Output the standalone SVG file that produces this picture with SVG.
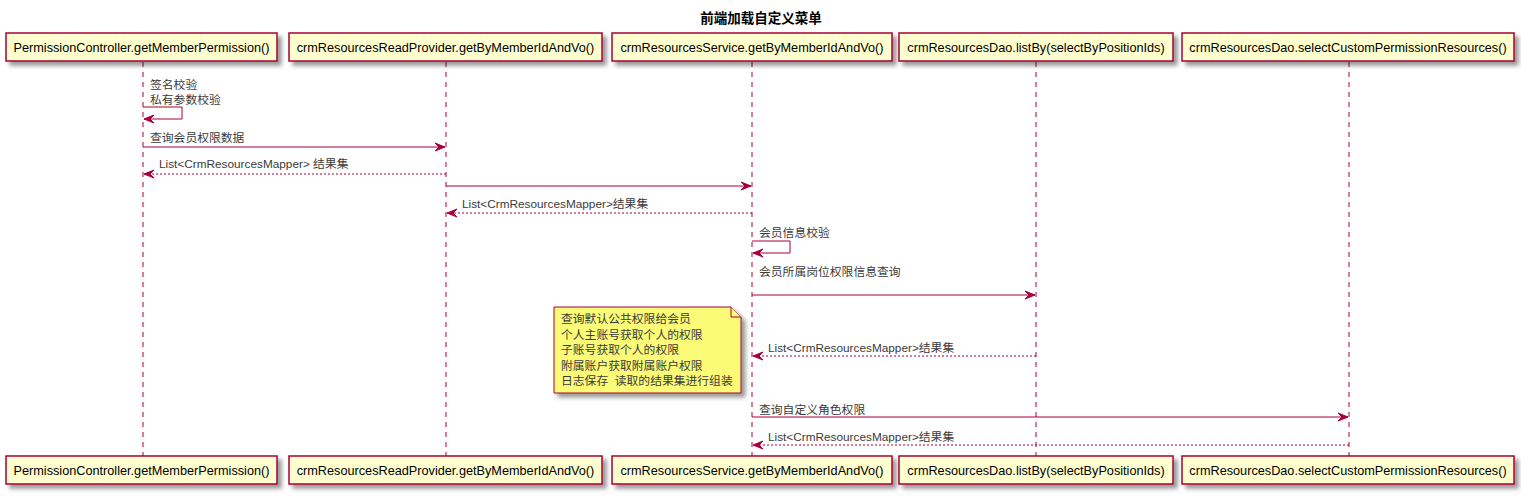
<svg xmlns="http://www.w3.org/2000/svg" width="1521" height="497" viewBox="0 0 1521 497">
<style>
.part rect{fill:#FEFECE;stroke:#A80036;stroke-width:1.5;}
.part text{font-family:"Liberation Sans","Noto Sans CJK SC",sans-serif;font-size:12.7px;fill:#000;text-anchor:middle;}
.life{stroke:#A80036;stroke-width:1;stroke-dasharray:5,5;fill:none;}
.msg{stroke:#A80036;stroke-width:1;fill:none;}
.ret{stroke:#A80036;stroke-width:1;fill:none;stroke-dasharray:2,2;}
.head{fill:#A80036;stroke:#A80036;stroke-width:1;}
.lbl{font-family:"Liberation Sans","Noto Sans CJK SC",sans-serif;font-size:11.8px;fill:#3a3a3a;}
.title{font-family:"Liberation Sans","Noto Sans CJK SC",sans-serif;font-size:13.5px;font-weight:bold;fill:#000;text-anchor:middle;}
.note path{fill:#FBFB77;stroke:#A80036;stroke-width:1;}
</style>
<defs>
<filter id="sh" x="-1" y="-1" width="300%" height="300%">
<feGaussianBlur result="b" stdDeviation="2"/>
<feColorMatrix in="b" result="c" type="matrix" values="0 0 0 0 0 0 0 0 0 0 0 0 0 0 0 0 0 0 .4 0"/>
<feOffset dx="4" dy="4" in="c" result="o"/>
<feBlend in="SourceGraphic" in2="o" mode="normal"/>
</filter>
</defs>
<rect width="1521" height="497" fill="#FFFFFF"/>
<text class="title" x="761" y="23">前端加载自定义菜单</text>

<g id="lifelines">
<line class="life" x1="143" y1="62" x2="143" y2="456"/>
<line class="life" x1="446" y1="62" x2="446" y2="456"/>
<line class="life" x1="752" y1="62" x2="752" y2="456"/>
<line class="life" x1="1036" y1="62" x2="1036" y2="456"/>
<line class="life" x1="1349" y1="62" x2="1349" y2="456"/>
</g>

<g id="p1" class="part">
<rect x="6" y="33" width="271" height="28" filter="url(#sh)"/>
<text x="141.5" y="52">PermissionController.getMemberPermission()</text>
<rect x="6" y="456" width="271" height="28" filter="url(#sh)"/>
<text x="141.5" y="475">PermissionController.getMemberPermission()</text>
</g>
<g id="p2" class="part">
<rect x="289" y="33" width="313" height="28" filter="url(#sh)"/>
<text x="445.5" y="52">crmResourcesReadProvider.getByMemberIdAndVo()</text>
<rect x="289" y="456" width="313" height="28" filter="url(#sh)"/>
<text x="445.5" y="475">crmResourcesReadProvider.getByMemberIdAndVo()</text>
</g>
<g id="p3" class="part">
<rect x="612" y="33" width="280" height="28" filter="url(#sh)"/>
<text x="752" y="52">crmResourcesService.getByMemberIdAndVo()</text>
<rect x="612" y="456" width="280" height="28" filter="url(#sh)"/>
<text x="752" y="475">crmResourcesService.getByMemberIdAndVo()</text>
</g>
<g id="p4" class="part">
<rect x="899" y="33" width="274" height="28" filter="url(#sh)"/>
<text x="1036" y="52">crmResourcesDao.listBy(selectByPositionIds)</text>
<rect x="899" y="456" width="274" height="28" filter="url(#sh)"/>
<text x="1036" y="475">crmResourcesDao.listBy(selectByPositionIds)</text>
</g>
<g id="p5" class="part">
<rect x="1182" y="33" width="332" height="28" filter="url(#sh)"/>
<text x="1348" y="52">crmResourcesDao.selectCustomPermissionResources()</text>
<rect x="1182" y="456" width="332" height="28" filter="url(#sh)"/>
<text x="1348" y="475">crmResourcesDao.selectCustomPermissionResources()</text>
</g>

<g id="note">
<g class="note">
<path d="M554,307 L731,307 L741,317 L741,393 L554,393 Z" filter="url(#sh)"/>
<path d="M731,307 L731,317 L741,317"/>
</g>
<text class="lbl" x="561" y="323">查询默认公共权限给会员</text>
<text class="lbl" x="561" y="338.5">个人主账号获取个人的权限</text>
<text class="lbl" x="561" y="354">子账号获取个人的权限</text>
<text class="lbl" x="561" y="369.5">附属账户获取附属账户权限</text>
<text class="lbl" x="561" y="385" xml:space="preserve">日志保存  读取的结果集进行组装</text>
</g>

<g id="connectors">
<text class="lbl" x="150" y="89">签名校验</text>
<text class="lbl" x="150" y="104">私有参数校验</text>
<polyline class="msg" points="143,107 182,107 182,119 144,119"/>
<polygon class="head" points="154,115 144,119 154,123 150,119"/>
<text class="lbl" x="150" y="142">查询会员权限数据</text>
<line class="msg" x1="143" y1="147" x2="445" y2="147"/>
<polygon class="head" points="435,143 445,147 435,151 439,147"/>
<text class="lbl" x="159" y="168" xml:space="preserve">List&lt;CrmResourcesMapper&gt; 结果集</text>
<line class="ret" x1="446" y1="174" x2="144" y2="174"/>
<polygon class="head" points="154,170 144,174 154,178 150,174"/>
<line class="msg" x1="446" y1="186" x2="751" y2="186"/>
<polygon class="head" points="741,182 751,186 741,190 745,186"/>
<text class="lbl" x="462" y="208">List&lt;CrmResourcesMapper&gt;结果集</text>
<line class="ret" x1="752" y1="213" x2="447" y2="213"/>
<polygon class="head" points="457,209 447,213 457,217 453,213"/>
<text class="lbl" x="759" y="237">会员信息校验</text>
<polyline class="msg" points="752,241 790,241 790,253 753,253"/>
<polygon class="head" points="763,249 753,253 763,257 759,253"/>
<text class="lbl" x="759" y="276">会员所属岗位权限信息查询</text>
<line class="msg" x1="752" y1="295" x2="1035" y2="295"/>
<polygon class="head" points="1025,291 1035,295 1025,299 1029,295"/>
<text class="lbl" x="768" y="352">List&lt;CrmResourcesMapper&gt;结果集</text>
<line class="ret" x1="1036" y1="356" x2="753" y2="356"/>
<polygon class="head" points="763,352 753,356 763,360 759,356"/>
<text class="lbl" x="759" y="414">查询自定义角色权限</text>
<line class="msg" x1="752" y1="417" x2="1348" y2="417"/>
<polygon class="head" points="1338,413 1348,417 1338,421 1342,417"/>
<text class="lbl" x="768" y="441">List&lt;CrmResourcesMapper&gt;结果集</text>
<line class="ret" x1="1349" y1="445" x2="753" y2="445"/>
<polygon class="head" points="763,441 753,445 763,449 759,445"/>
</g>
</svg>
